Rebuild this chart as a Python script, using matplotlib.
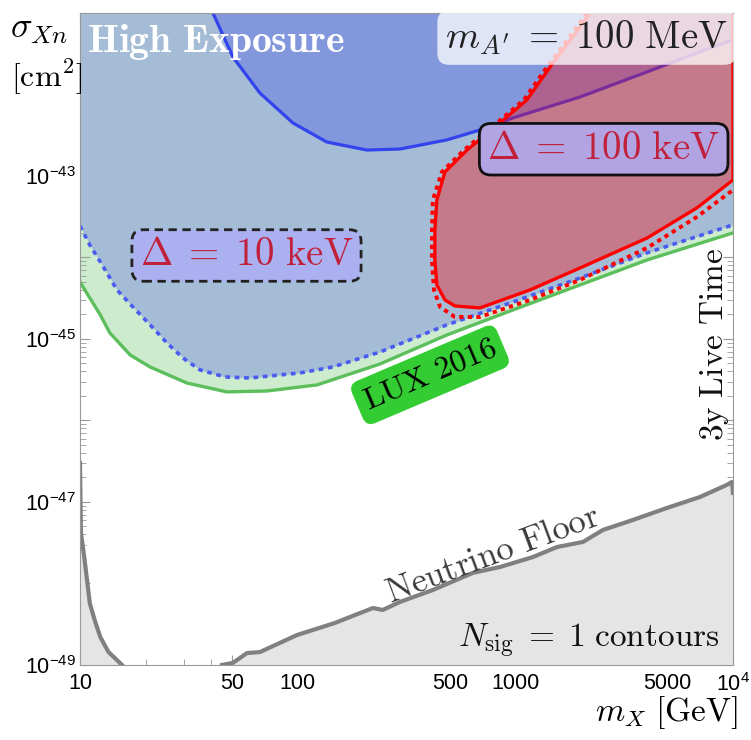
import matplotlib
matplotlib.use("Agg")
from matplotlib import pyplot as plt
from matplotlib.ticker import LogLocator, NullFormatter

plt.rcParams['mathtext.fontset'] = 'cm'
# 'custom' math set is only used for the sans tick labels
plt.rcParams['mathtext.rm'] = 'Liberation Sans'
plt.rcParams['mathtext.it'] = 'Liberation Sans:italic'
plt.rcParams['mathtext.bf'] = 'Liberation Sans:bold'
plt.rcParams['font.family'] = 'Liberation Sans'

# ---- data ----
# LUX 2016 limit
lux_m = [10, 11.1, 12.4, 13.7, 17.0, 21.0, 31.0, 47.3, 72.3, 122.7, 238.9, 485, 975, 1982, 4027, 10000]
lux_s = [5.0e-45, 3.18e-45, 1.97e-45, 1.19e-45, 6.37e-46, 4.53e-46, 2.88e-46, 2.24e-46, 2.30e-46,
         2.73e-46, 4.93e-46, 1.12e-45, 2.27e-45, 4.60e-45, 9.31e-45, 2.0e-44]

# Delta = 10 keV, high exposure (dotted blue)
d10_m = [10, 11.1, 12.4, 14.8, 17.5, 21.0, 25.1, 29.7, 35.6, 46.3, 60.4, 102.5, 145, 238.9, 485, 975,
         1982, 4027, 10000]
d10_s = [2.44e-44, 1.42e-44, 8.81e-45, 3.99e-45, 2.47e-45, 1.49e-45, 8.93e-46, 5.85e-46, 4.17e-46,
         3.42e-46, 3.32e-46, 3.83e-46, 4.53e-46, 6.92e-46, 1.49e-45, 2.84e-45, 5.60e-45, 1.14e-44, 2.51e-44]

# Delta = 10 keV, 3y live time (solid blue)
d10b_m = [40.8, 50.4, 67.1, 95.1, 136, 208, 295, 485, 687, 975, 1982, 4027, 8092, 10000]
d10b_s = [1e-41, 2.88e-42, 1.04e-42, 4.47e-43, 2.61e-43, 2.08e-43, 2.14e-43, 2.77e-43, 3.66e-43,
          5.15e-43, 9.31e-43, 1.89e-42, 3.83e-42, 4.67e-42]

# Delta = 100 keV (solid red contour)
d100_m = [2203, 1982, 1489, 1130, 849, 600, 475, 436, 427, 427, 436, 475, 528, 687, 1167, 1982, 4027,
          6823, 10000, 10000]
d100_s = [1e-41, 6.73e-42, 2.44e-42, 8.57e-43, 4.47e-43, 2.08e-43, 1.12e-43, 5.08e-44, 2.17e-44,
          9.31e-45, 4.60e-45, 3.01e-45, 2.54e-45, 2.40e-45, 3.99e-45, 7.43e-45, 1.73e-44, 4.05e-44,
          8.93e-44, 1e-41]

# Delta = 100 keV (dotted red contour)
d100d_m = [2133, 1919, 1442, 1095, 823, 581, 460, 418, 414, 414, 423, 451, 528, 687, 1167, 1982, 4027,
           6823, 10000]
d100d_s = [1e-41, 6.73e-42, 2.44e-42, 8.57e-43, 4.47e-43, 2.08e-43, 1.12e-43, 5.08e-44, 2.17e-44,
           9.31e-45, 3.99e-45, 2.47e-45, 1.86e-45, 1.86e-45, 3.01e-45, 5.30e-45, 1.31e-44, 3.14e-44,
           6.73e-44]

# neutrino floor
nu_lo_m = [10, 10.1, 10.5, 11.1, 11.7, 12.4, 13.5, 15.6]
nu_lo_s = [3.0e-47, 4.2e-48, 1.95e-48, 5.7e-49, 3.5e-49, 2.2e-49, 1.45e-49, 1e-49]
nu_hi_m = [44.9, 50.4, 58.5, 67.1, 99.3, 148, 174, 222, 246, 295, 418, 639, 849, 1205, 1553, 2046,
           2524, 3467, 4971, 7047, 9376, 9900, 10000]
nu_hi_s = [1e-49, 1.06e-49, 1.40e-49, 1.44e-49, 2.33e-49, 3.27e-49, 3.88e-49, 5.0e-49, 4.73e-49,
           5.93e-49, 8.32e-49, 1.35e-48, 1.59e-48, 2.11e-48, 2.80e-48, 3.23e-48, 4.53e-48, 6.01e-48,
           8.44e-48, 1.15e-47, 1.62e-47, 1.76e-47, 1.29e-47]

xticks = [10, 50, 100, 500, 1000, 5000, 10000]
xticklabels = ['10', '50', '100', '500', '1000', '5000', r'$10^4$']
ydecades = [-49, -48, -47, -46, -45, -44, -43, -42, -41]

ytop = 1e-41
ybot = 1e-49

fig = plt.figure(figsize=(7.51, 7.40), dpi=100)
ax = fig.add_axes([0.1065, 0.1014, 0.8695, 0.8811])
ax.set_xscale('log')
ax.set_yscale('log')
ax.set_xlim(10, 1e4)
ax.set_ylim(ybot, ytop)

# LUX
ax.fill_between(lux_m, lux_s, ytop, color='#cdeccd', lw=0, zorder=1)
ax.plot(lux_m, lux_s, color='#5cbf5c', lw=2.4, zorder=2)

# high exposure region
ax.fill_between(d10_m, d10_s, ytop, color='#a5bcd6', lw=0, zorder=3)
ax.plot(d10_m, d10_s, color='#4a5cf0', lw=2.6, ls=(0, (1.3, 1.3)), zorder=4)

ax.fill_between(d10b_m, d10b_s, ytop, color='#8297dc', lw=0, zorder=5)
ax.plot(d10b_m, d10b_s, color='#3344ee', lw=2.3, zorder=6)

# neutrino floor
ax.fill_between(nu_lo_m, ybot, nu_lo_s, color='#e5e5e5', lw=0, zorder=5)
ax.fill_between(nu_hi_m, ybot, nu_hi_s, color='#e5e5e5', lw=0, zorder=5)
ax.plot(nu_lo_m, nu_lo_s, color='#808080', lw=3, zorder=6)
ax.plot(nu_hi_m, nu_hi_s, color='#808080', lw=3, zorder=6)

# Delta = 100 keV
ax.fill(d100_m, d100_s, color='red', alpha=0.35, lw=0, zorder=7)
ax.plot(d100_m, d100_s, color='red', lw=2.4, zorder=8)
ax.plot(d100d_m, d100d_s, color='red', lw=2.8, ls=(0, (1.1, 1.1)), zorder=8)

# ticks
ax.set_xticks(xticks)
ax.set_xticklabels(xticklabels)
ax.xaxis.set_minor_locator(LogLocator(base=10, subs=range(2, 10), numticks=20))
ax.xaxis.set_minor_formatter(NullFormatter())
ax.set_yticks([10.0 ** d for d in ydecades])
ax.set_yticklabels([r'$10^{%d}$' % d if d % 2 == 1 and d < -42 else '' for d in ydecades])
ax.yaxis.set_minor_locator(LogLocator(base=10, subs=range(2, 10), numticks=20))
ax.yaxis.set_minor_formatter(NullFormatter())
ax.tick_params(which='both', direction='in', top=True, right=True, color='#999999', labelsize=15.5)
ax.tick_params(which='major', length=7)
ax.tick_params(which='minor', length=4)
ax.tick_params(axis='x', which='major', pad=6)
ax.tick_params(axis='y', which='major', pad=3)
for t in ax.get_xticklabels() + ax.get_yticklabels():
    t.set_math_fontfamily('custom')
for s in ax.spines.values():
    s.set_color('#999999')
    s.set_zorder(10)

# labels and annotations
fig.text(0.0133, 0.9486, r'$\sigma_{Xn}$', fontsize=26, math_fontfamily='cm', va='baseline')
fig.text(0.0146, 0.8824, r'$[\mathrm{cm}^2]$', fontsize=23, math_fontfamily='cm', va='baseline')
fig.text(0.9827, 0.025, r'$m_X\ [\mathrm{GeV}]$', fontsize=24, math_fontfamily='cm', ha='right',
         va='baseline')

ax.text(0.011, 0.940, r'$\mathbf{High\ Exposure}$', transform=ax.transAxes, fontsize=28.5,
        color='white', math_fontfamily='cm', va='baseline', zorder=12)
ax.text(0.776, 0.962, r"$m_{A'}\;=\;100\ \mathrm{MeV}$", transform=ax.transAxes, fontsize=28,
        color='#222222', math_fontfamily='cm', ha='center', va='center', zorder=12,
        bbox=dict(boxstyle='round,pad=0.2,rounding_size=0.3', fc='white', ec='none', alpha=0.75))
ax.text(0.802, 0.791, r'$\Delta\;=\;100\ \mathrm{keV}$', transform=ax.transAxes, fontsize=28,
        color='#c0203a', math_fontfamily='cm', ha='center', va='center', zorder=12,
        bbox=dict(boxstyle='round,pad=0.2,rounding_size=0.3', fc='#b2a3e3', ec='#111111', lw=2))
ax.text(0.255, 0.628, r'$\Delta\;=\;10\ \mathrm{keV}$', transform=ax.transAxes, fontsize=28,
        color='#c0203a', math_fontfamily='cm', ha='center', va='center', zorder=12,
        bbox=dict(boxstyle='round,pad=0.2,rounding_size=0.3', fc='#aab0f0', ec='#222222', lw=2,
                  ls=(0, (3, 2))))
ax.text(0.536, 0.445, r'$\mathrm{LUX\ 2016}$', transform=ax.transAxes, fontsize=23,
        color='black', math_fontfamily='cm', ha='center', va='center', rotation=23,
        rotation_mode='anchor', zorder=12,
        bbox=dict(boxstyle='round,pad=0.25,rounding_size=0.3', fc='#33cc33', ec='none'))
ax.text(0.632, 0.169, r'$\mathrm{Neutrino\ Floor}$', transform=ax.transAxes, fontsize=25,
        color='#3a3a3a', math_fontfamily='cm', ha='center', va='center', rotation=20.5,
        rotation_mode='anchor', zorder=12)
ax.text(0.972, 0.491, r'$\mathrm{3y\ Live\ Time}$', transform=ax.transAxes, fontsize=24,
        color='#111111', math_fontfamily='cm', ha='center', va='center', rotation=90, zorder=12)
ax.text(0.980, 0.0276, r'$N_{\mathrm{sig}}\;=\;1\ \mathrm{contours}$', transform=ax.transAxes,
        fontsize=24, color='#111111', math_fontfamily='cm', ha='right', va='baseline', zorder=12)

fig.savefig('out.png', dpi=100)
